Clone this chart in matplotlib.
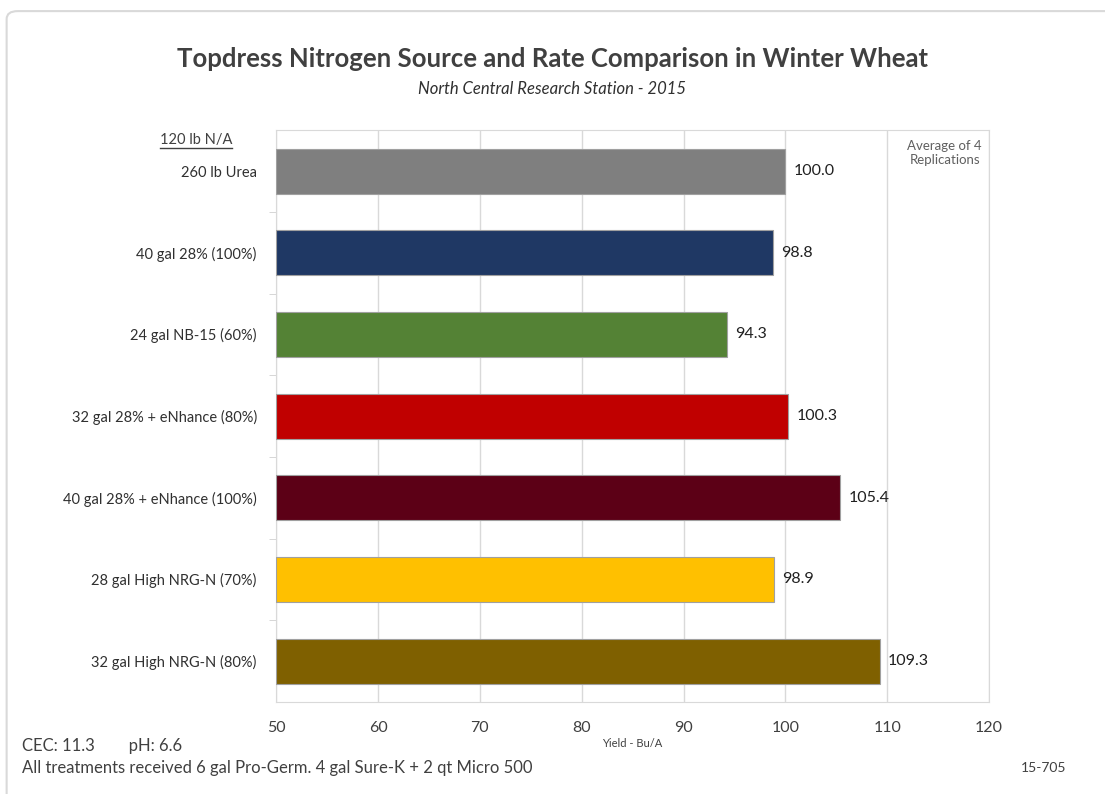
import matplotlib.pyplot as plt
from matplotlib.patches import FancyBboxPatch
from matplotlib.lines import Line2D

plt.rcParams['font.family'] = ['Lato', 'DejaVu Sans']

# data
treatments = ['260 lb Urea', '40 gal 28% (100%)', '24 gal NB-15 (60%)',
              '32 gal 28% + eNhance (80%)', '40 gal 28% + eNhance (100%)',
              '28 gal High NRG-N (70%)', '32 gal High NRG-N (80%)']
yields = [100.0, 98.8, 94.3, 100.3, 105.4, 98.9, 109.3]
bar_colors = ['#7f7f7f', '#1f3864', '#548235', '#c00000', '#5c0016', '#ffc000', '#7f6000']
xticks = [50, 60, 70, 80, 90, 100, 110, 120]

txt = '#404040'

fig = plt.figure(figsize=(11.05, 7.94), dpi=100)
ax = fig.add_axes([0.25, 0.116, 0.645, 0.72])

pos = list(range(len(treatments)))
ax.barh(pos, [v - 50 for v in yields], left=50, height=0.55,
        color=bar_colors, edgecolor='#a0a0a0', linewidth=0.8, zorder=3)
for p, v in zip(pos, yields):
    ax.text(v + 0.8, p, f'{v:.1f}', va='center', ha='left', fontsize=11.5, color='#202020')

ax.set_xlim(50, 120)
ax.set_ylim(len(treatments) - 0.5, -0.5)
ax.set_xticks(xticks)
ax.set_xticklabels([str(t) for t in xticks], fontsize=11.5, color=txt)
ax.tick_params(axis='x', length=0, pad=14)
ax.set_yticks(pos)
ax.set_yticklabels(treatments, fontsize=10.5, color='#303030')
ax.tick_params(axis='y', length=0, pad=14)
# small tick marks at category boundaries
ax.set_yticks([p + 0.5 for p in pos[:-1]], minor=True)
ax.tick_params(axis='y', which='minor', length=5, color='#d0d0d0')
ax.grid(axis='x', color='#d9d9d9', linewidth=1, zorder=0)
for s in ax.spines.values():
    s.set_color('#d9d9d9')

ax.set_xlabel('Yield - Bu/A', fontsize=8, color=txt, labelpad=2)

fig.text(0.5, 0.926, 'Topdress Nitrogen Source and Rate Comparison in Winter Wheat',
         ha='center', va='center', fontsize=18.5, fontweight='bold', color=txt)
fig.text(0.5, 0.888, 'North Central Research Station - 2015', ha='center', va='center',
         fontsize=12, style='italic', color='#303030')

hdr = fig.text(0.21, 0.824, '120 lb N/A', ha='right', va='center', fontsize=10.5, color=txt)
fig.text(0.855, 0.807, 'Average of 4\nReplications', ha='center', va='center',
         fontsize=9.5, color='#606060', linespacing=1.2)

fig.text(0.02, 0.06, 'CEC: 11.3        pH: 6.6', ha='left', va='center', fontsize=12, color=txt)
fig.text(0.02, 0.033, 'All treatments received 6 gal Pro-Germ. 4 gal Sure-K + 2 qt Micro 500',
         ha='left', va='center', fontsize=12, color=txt)
fig.text(0.965, 0.033, '15-705', ha='right', va='center', fontsize=10, color=txt)

# underline for header
fig.canvas.draw()
bb = hdr.get_window_extent().transformed(fig.transFigure.inverted())
fig.add_artist(Line2D([bb.x0, bb.x1], [bb.y0 - 0.002, bb.y0 - 0.002],
                      transform=fig.transFigure, color=txt, linewidth=1))

# outer frame (bottom and right edges run off the image)
frame = FancyBboxPatch((0.006, -0.1), 1.1, 1.086, boxstyle='round,pad=0,rounding_size=0.01',
                       transform=fig.transFigure, facecolor='none', edgecolor='#d9d9d9',
                       linewidth=1.5)
fig.add_artist(frame)

fig.savefig('out.png', dpi=100)
